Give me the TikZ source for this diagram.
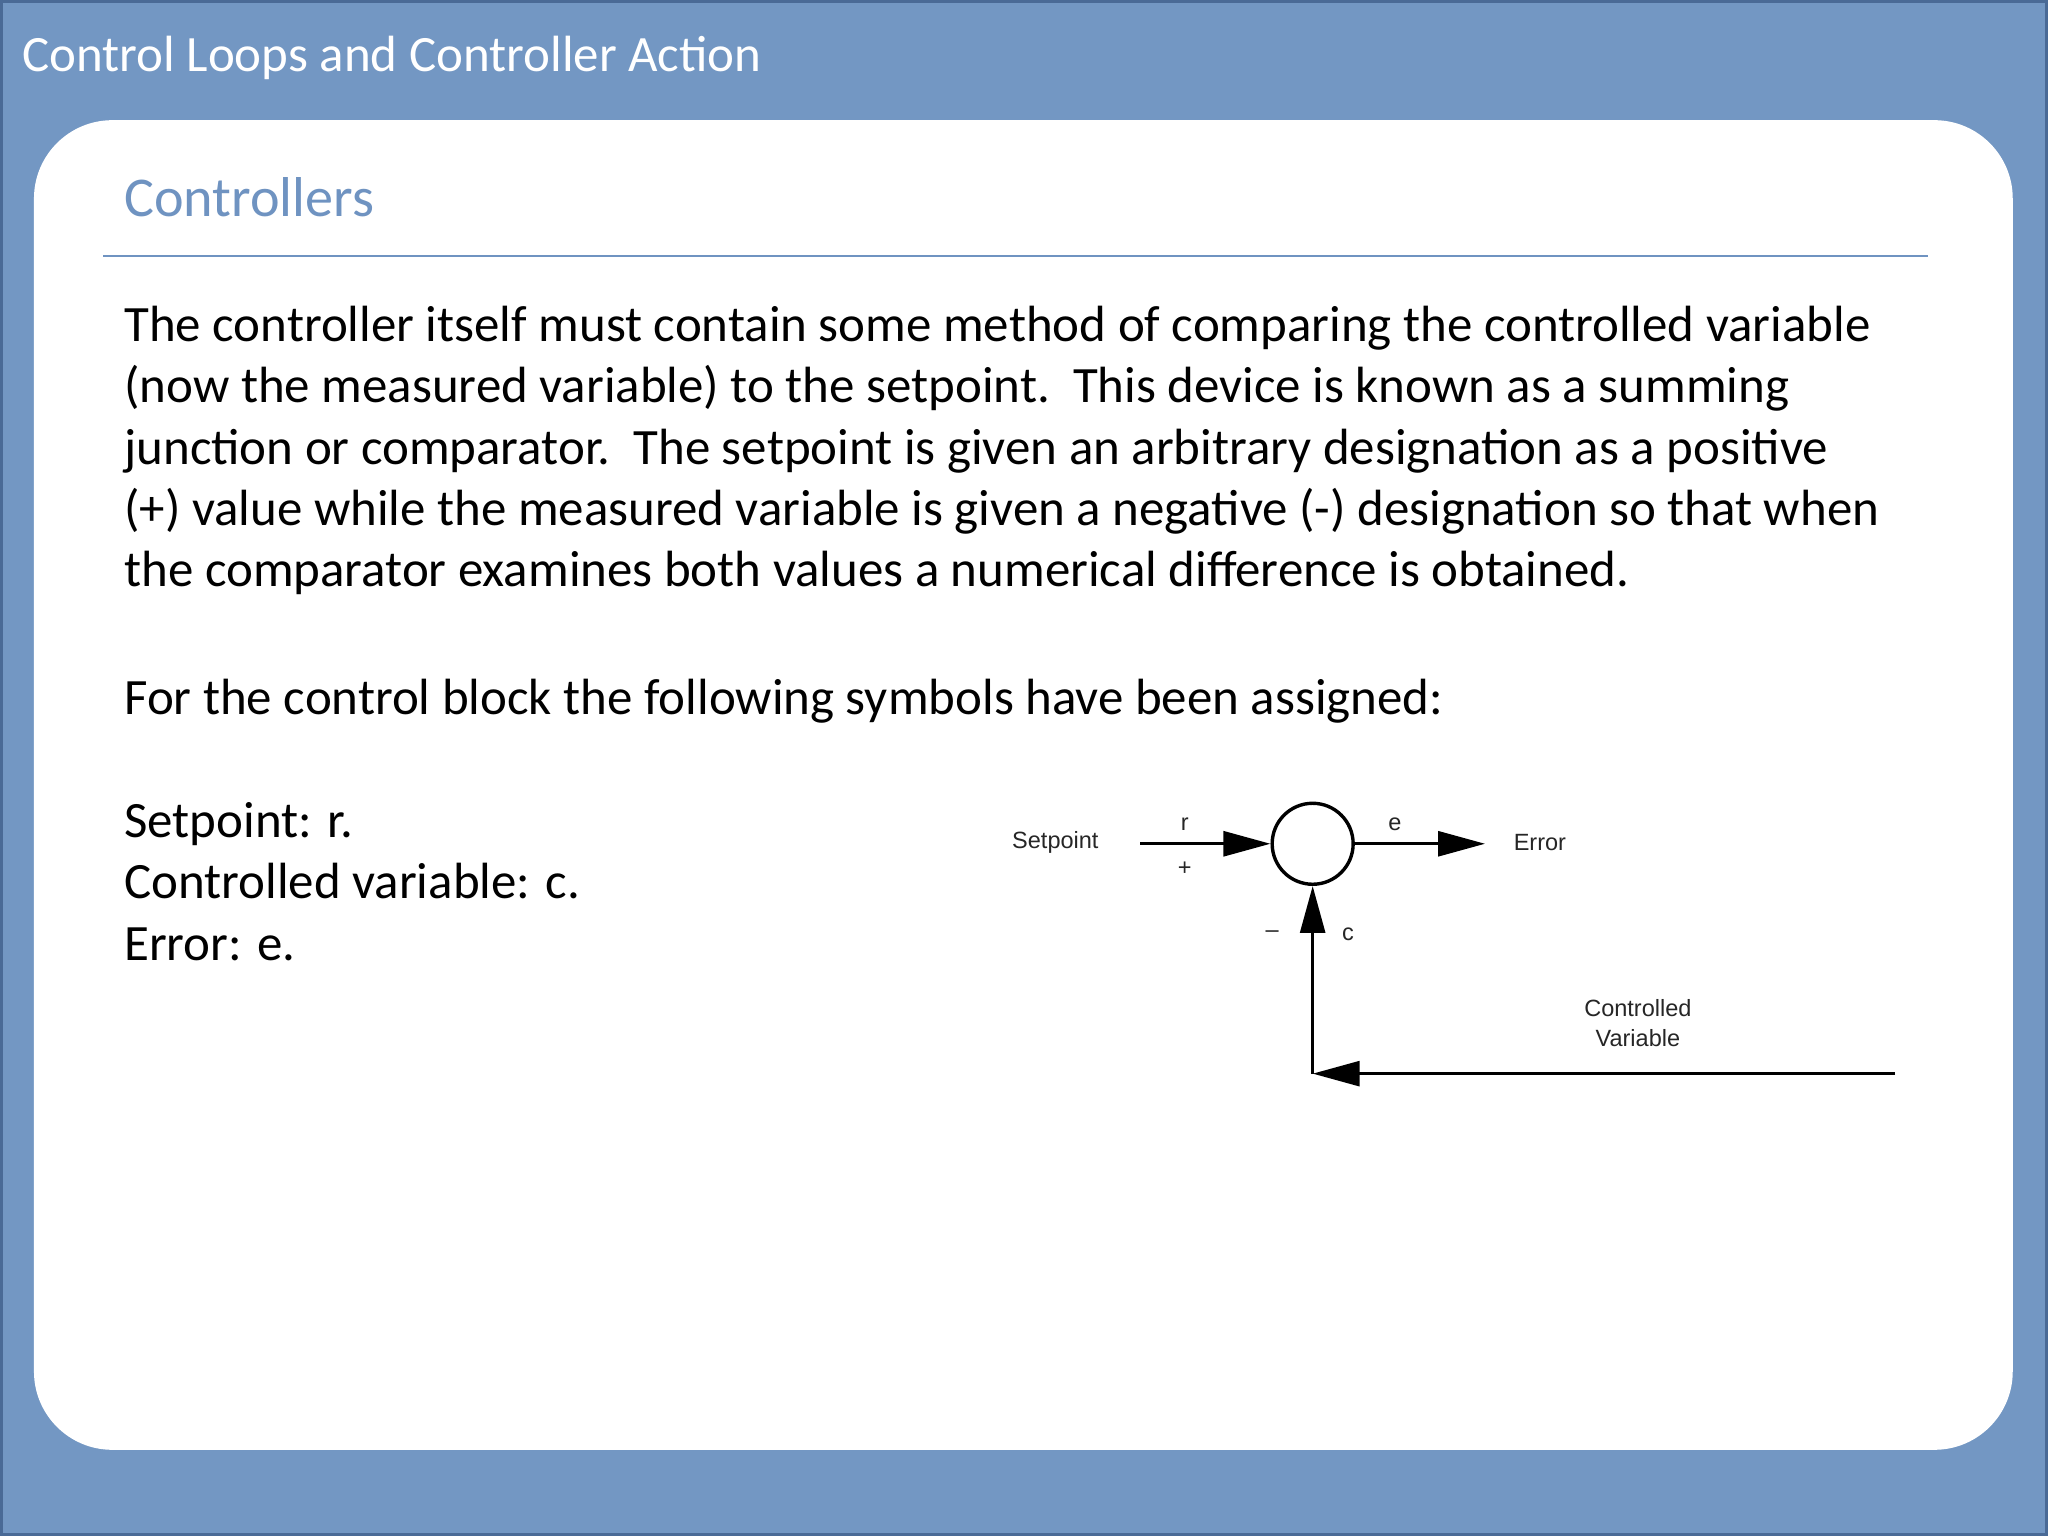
\documentclass[tikz,border=0pt]{standalone}
\usepackage{fontspec}
\setmainfont{Carlito}
\newfontfamily\arialf{Liberation Sans}
\usetikzlibrary{arrows.meta}
\definecolor{bgblue}{HTML}{7397C3}
\definecolor{edgeblue}{HTML}{4A6A96}
\definecolor{headblue}{HTML}{6F93C1}
\tikzset{
  body/.style={anchor=west,font=\fontsize{39}{47}\selectfont,align=left,inner sep=0},
  lbl/.style={font=\arialf\fontsize{18}{23}\selectfont,inner sep=0,text=black!85},
  sig/.style={line width=2.6pt,-{Triangle[length=36pt,width=19pt]}},
  sigplain/.style={line width=2.6pt}
}
\begin{document}
\begin{tikzpicture}[x=1pt,y=-1pt]
\useasboundingbox (0,0) rectangle (1568,1176);
\fill[bgblue,draw=edgeblue,line width=2pt] (1,1) rectangle (1567,1175);
\fill[white,rounded corners=60pt] (26,92) rectangle (1541,1110);
\node[anchor=west,text=white,font=\fontsize{39}{44}\selectfont,inner sep=0] (title) at (17,44) {Control Loops and Controller Action};
\node[anchor=west,text=headblue,font=\fontsize{43}{48}\selectfont,inner sep=0] (head) at (95,151) {Controllers};
\draw[headblue,line width=1.3pt] (79,196) -- (1476,196);
\node[body,anchor=north west] (para) at (95,234) {The controller itself must contain some method of comparing the controlled variable\\(now the measured variable) to the setpoint.\ \ This device is known as a summing\\junction or comparator.\ \ The setpoint is given an arbitrary designation as a positive\\(+) value while the measured variable is given a negative (-) designation so that when\\the comparator examines both values a numerical difference is obtained.};
\node[body] (assign) at (95,537) {For the control block the following symbols have been assigned:};
\node[body,anchor=north west] (defs) at (95,614) {Setpoint: r.\\Controlled variable: c.\\Error: e.};
% diagram
\node[lbl] (sp) at (808,645) {Setpoint};
\node[circle,draw,line width=2.6pt,minimum size=62pt,inner sep=0] (sum) at (1005,646) {};
\coordinate (spin) at (873,646);
\coordinate (errout) at (1137,646);
\node[lbl] (err) at (1179,645) {Error};
\draw[sig] (spin) -- (sum.west);
\draw[sig] (sum.east) -- (errout);
\node[lbl] (r) at (907,631) {r};
\node[lbl] (plus) at (907,665) {+};
\node[lbl] (e) at (1068,631) {e};
\node[lbl] (minus) at (974,715) {–};
\node[lbl] (c) at (1032,715) {c};
\coordinate (corner) at (1005,822);
\coordinate (cvin) at (1451,822);
\draw[sig] (cvin) -- (corner);
\draw[sig] (corner) -- (sum.south);
\node[lbl,align=center] (cv) at (1254,783) {Controlled\\Variable};
\end{tikzpicture}
\end{document}
